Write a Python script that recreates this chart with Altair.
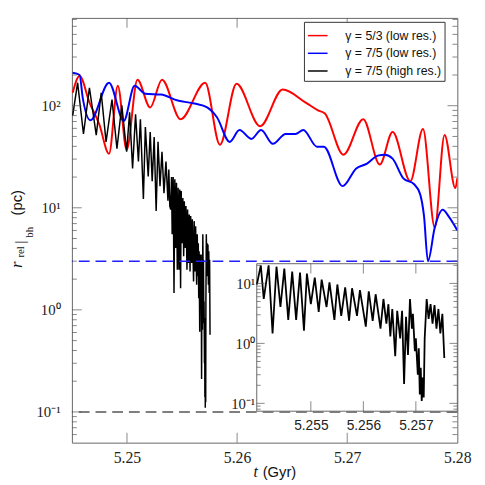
import altair as alt
import pandas as pd

# ---------------- data ----------------
red_t = [5.24507, 5.24570, 5.24659, 5.24748, 5.24837, 5.24917, 5.24997, 5.25095, 5.25211,
         5.25318, 5.25487, 5.25710, 5.25844, 5.25995, 5.26209, 5.26414, 5.26619, 5.26735,
         5.26797, 5.26966, 5.27145, 5.27296, 5.27412, 5.27573, 5.27688, 5.27795, 5.27884,
         5.27982, 5.28]
red_r = [134, 196, 108, 66, 33.9, 157, 37, 180, 96,
         180, 73.8, 168, 41.4, 164, 63, 144, 108, 90,
         84, 33.1, 73.8, 26.5, 55.2, 18.2, 59, 6.4, 51.7,
         15.6, 19.5]

blue_t = [5.24507, 5.24570, 5.24598, 5.24668, 5.24837, 5.24971, 5.25069, 5.25167, 5.25309,
          5.25461, 5.25612, 5.25728, 5.25817, 5.25933, 5.26022, 5.26129, 5.26218, 5.26325,
          5.26441, 5.26530, 5.26601, 5.26726, 5.26788, 5.26958, 5.27082, 5.27180, 5.27278,
          5.27341, 5.27412, 5.27510, 5.27608, 5.27662, 5.27697, 5.27733, 5.27795, 5.27867,
          5.27929, 5.28]
blue_r = [210, 200, 120, 72, 168, 71, 157, 131, 128.5,
          112.5, 105, 96.3, 77, 44.2, 57.8, 47.3, 57.8, 42.3,
          52.8, 52.8, 57.8, 39.6, 39.6, 16.3, 24.3, 27.1, 32.4,
          33.1, 30.3, 19.4, 17.0, 13.6, 8.36, 3.0, 6.4, 9.55,
          8.0, 6.0]

black_t = [5.24507, 5.24552, 5.24605, 5.24659, 5.24721, 5.24766, 5.24810, 5.24864, 5.24909,
           5.24953, 5.24997, 5.25024, 5.25051, 5.25078, 5.25104, 5.25122, 5.25149, 5.25167,
           5.25193, 5.25211, 5.25229, 5.25247, 5.25265, 5.25282, 5.25300, 5.25318, 5.25336,
           5.25354, 5.25372, 5.25380, 5.25389,
           5.253972, 5.254047, 5.254103, 5.254196, 5.254271, 5.254346, 5.254421, 5.254495,
           5.254570, 5.254645, 5.254720, 5.254794, 5.254869, 5.254925, 5.255000, 5.255075,
           5.255150, 5.255206, 5.255299, 5.255355, 5.255449, 5.255505, 5.255579, 5.255654,
           5.255729, 5.255785, 5.255879, 5.255935, 5.256047, 5.256103, 5.256178, 5.256234,
           5.256327, 5.256383, 5.256439, 5.256477, 5.256514, 5.256551, 5.256607, 5.256645,
           5.256701, 5.256738, 5.256776, 5.256813, 5.256850, 5.256888, 5.256925, 5.256944,
           5.256981, 5.257000, 5.257037, 5.257056, 5.257075, 5.257093, 5.257112, 5.257131,
           5.257150, 5.257168, 5.257206, 5.257243, 5.257280, 5.257318, 5.257355, 5.257393,
           5.257430, 5.257467, 5.257505, 5.257542]
black_r = [80, 168, 52.8, 150, 51.5, 134, 44.3, 115, 37.9,
           100.7, 35.4, 86.1, 24.3, 82.4, 28.4, 73.6, 12.2, 61.7,
           20.3, 55.2, 18.2, 49.4, 9.3, 44.3, 16.3, 35.4, 13.9,
           28.4, 11.7, 23.7, 10.4,
           9.6, 20.0, 5.5, 20.0, 1.46, 19.0, 4.04, 17.6,
           2.47, 15.7, 2.47, 15.1, 1.63, 14.6, 4.5, 12.5,
           3.35, 11.6, 4.04, 10.4, 2.47, 9.6, 2.88, 8.6,
           2.38, 8.3, 2.88, 7.7, 1.90, 7.4, 2.38, 6.6,
           1.76, 5.5, 2.13, 4.5, 1.30, 3.75, 0.61, 3.48,
           1.21, 3.48, 0.21, 2.77, 0.64, 5.5, 1.76, 3.1,
           0.74, 1.21, 0.30, 0.83, 0.14, 0.39, 0.11, 0.27,
           0.125, 1.21, 5.5, 2.57, 4.5, 2.13, 4.36, 1.76,
           3.75, 1.46, 3.1, 0.57]

series_names = ["γ = 5/3 (low res.)", "γ = 7/5 (low res.)", "γ = 7/5 (high res.)"]
series_colors = ["#ff0000", "#0000ff", "#000000"]

ref_levels = [3.0, 0.1]
ref_colors = ["#1f1fff", "#555555"]

main_x_domain = [5.245, 5.28]
main_y_domain = [0.05, 725]
inset_x_domain = [5.25397, 5.25779]
inset_y_domain = [0.074, 21.3]

main_xticks = [5.25, 5.26, 5.27, 5.28]
main_xticks_inner = [5.25, 5.26, 5.27]
main_ymajor = [0.1, 1, 10, 100]
main_yminor = [0.06, 0.07, 0.08, 0.09, 0.2, 0.3, 0.4, 0.5, 0.6, 0.7, 0.8, 0.9,
               2, 3, 4, 5, 6, 7, 8, 9, 20, 30, 40, 50, 60, 70, 80, 90,
               200, 300, 400, 500, 600, 700]
inset_xticks = [5.255, 5.256, 5.257]
inset_ymajor = [0.1, 1, 10]
inset_yminor = [0.08, 0.09, 0.2, 0.3, 0.4, 0.5, 0.6, 0.7, 0.8, 0.9,
                2, 3, 4, 5, 6, 7, 8, 9, 20]

# ---------------- layout constants ----------------
W, H = 392, 432
INSET_X_RANGE = [188, 392]
INSET_Y_RANGE = [400, 250]
FRAME = "#666666"
TICKC = "#555555"
SERIF = "Liberation Serif"
SANS = "Liberation Sans"
pow_expr = ("datum.value > 50 ? '10²' : datum.value > 5 ? '10¹' : "
            "datum.value > 0.5 ? '10⁰' : '10⁻¹'")

df_red = pd.DataFrame({"t": red_t, "r": red_r, "series": series_names[0]})
df_blue = pd.DataFrame({"t": blue_t, "r": blue_r, "series": series_names[1]})
df_black = pd.DataFrame({"t": black_t, "r": black_r, "series": series_names[2]})
df_ref = pd.DataFrame({"r": ref_levels, "c": ref_colors})

xs = alt.Scale(domain=main_x_domain, nice=False, zero=False)
ys = alt.Scale(type="log", domain=main_y_domain, nice=False)

x_axis = alt.Axis(values=main_xticks, format=".2f", ticks=False, tickSize=0, domain=False,
                  grid=False, labelPadding=7, labelFont=SERIF, labelFontSize=16,
                  labelColor="#222", labelFlush=False, labelOverlap=False, title=None,
                  orient="bottom")
y_axis = alt.Axis(values=main_ymajor, labelExpr=pow_expr, ticks=False, tickSize=0, domain=False,
                  grid=False, labelPadding=12, labelFont=SERIF, labelFontSize=15,
                  labelColor="#222", labelFlush=False, labelOverlap=False, title=None,
                  orient="left")

color = alt.Color("series:N",
                  scale=alt.Scale(domain=series_names, range=series_colors),
                  legend=alt.Legend(title=None, orient="none", legendX=236, legendY=4,
                                    symbolType="stroke", symbolSize=400, symbolStrokeWidth=1.5,
                                    labelFont=SANS, labelFontSize=12.5, labelColor="#111",
                                    padding=3, rowPadding=0, labelOffset=17,
                                    strokeColor="#333", fillColor="white", cornerRadius=0))

red = alt.Chart(df_red).mark_line(interpolate="monotone", strokeWidth=2, clip=True).encode(
    x=alt.X("t:Q", scale=xs, axis=x_axis, title=None),
    y=alt.Y("r:Q", scale=ys, axis=y_axis, title=None),
    color=color)
blue = alt.Chart(df_blue).mark_line(interpolate="monotone", strokeWidth=2, clip=True).encode(
    x=alt.X("t:Q", title=None), y=alt.Y("r:Q", title=None), color=color)
black = alt.Chart(df_black).mark_line(strokeWidth=1.5, clip=True).encode(
    x=alt.X("t:Q", title=None), y=alt.Y("r:Q", title=None), color=color)

refs = alt.Chart(df_ref).mark_rule(strokeDash=[11, 6], strokeWidth=1.5).encode(
    y=alt.Y("r:Q", title=None),
    stroke=alt.Stroke("c:N", scale=None))

def yticks(values, xval, length, offset):
    return alt.Chart(pd.DataFrame({"v": values})).mark_tick(
        orient="horizontal", size=length, thickness=1, xOffset=offset, color=TICKC).encode(
        x=alt.datum(xval), y=alt.Y("v:Q", title=None))

def xticks(values, yval, length, offset):
    return alt.Chart(pd.DataFrame({"v": values})).mark_tick(
        orient="vertical", size=length, thickness=1, yOffset=offset, color=TICKC).encode(
        y=alt.datum(yval), x=alt.X("v:Q", title=None))

def label(text, x, y, font, size, style="normal"):
    return alt.Chart(pd.DataFrame({"s": [text]})).mark_text(
        angle=270, align="center", baseline="middle", font=font, fontSize=size,
        fontStyle=style, color="#111").encode(
        x=alt.value(x), y=alt.value(y), text="s:N")

def hlabel(text, x, y, font, size, align, style="normal"):
    return alt.Chart(pd.DataFrame({"s": [text]})).mark_text(
        align=align, baseline="middle", font=font, fontSize=size,
        fontStyle=style, color="#111").encode(
        x=alt.value(x), y=alt.value(y), text="s:N")

main = alt.layer(
    red, blue, black, refs,
    yticks(main_ymajor, main_x_domain[0], 10, 5),
    yticks(main_ymajor, main_x_domain[1], 10, -5),
    yticks(main_yminor, main_x_domain[0], 5, 2.5),
    yticks(main_yminor, main_x_domain[1], 5, -2.5),
    xticks(main_xticks_inner, main_y_domain[0], 10, -5),
    xticks(main_xticks_inner, main_y_domain[1], 10, 5),
    label("(pc)", -56, 188, SANS, 15),
    label("bh", -43, 218, SERIF, 11),
    label("|", -53, 228, SERIF, 15),
    label("rel", -52, 238, SERIF, 11),
    label("r", -56, 251, SERIF, 17, "italic"),
    hlabel("t", 187, 462, SERIF, 16, "center", "italic"),
    hlabel("(Gyr)", 194, 462, SANS, 15, "left"),
)

# ---------------- inset ----------------
ixs = alt.Scale(domain=inset_x_domain, range=INSET_X_RANGE, nice=False, zero=False)
iys = alt.Scale(type="log", domain=inset_y_domain, range=INSET_Y_RANGE, nice=False)

ix_axis = alt.Axis(orient="bottom", offset=-32, values=inset_xticks, format=".3f",
                   ticks=False, tickSize=0, domain=False, grid=False, labelPadding=8,
                   labelFont=SANS, labelFontSize=14, labelColor="#222", labelFlush=False,
                   labelOverlap=False, title=None)
iy_axis = alt.Axis(orient="left", offset=-188, values=inset_ymajor, labelExpr=pow_expr,
                   ticks=False, tickSize=0, domain=False, grid=False, labelPadding=2,
                   labelFont=SERIF, labelFontSize=15, labelColor="#222", labelFlush=False,
                   labelOverlap=False, title=None)

df_frame = pd.DataFrame({"x0": [inset_x_domain[0]], "x1": [inset_x_domain[1]],
                         "y0": [inset_y_domain[0]], "y1": [inset_y_domain[1]]})
frame = alt.Chart(df_frame).mark_rect(fill="white", stroke=FRAME, strokeWidth=1).encode(
    x=alt.X("x0:Q", scale=ixs, axis=ix_axis, title=None), x2="x1:Q",
    y=alt.Y("y0:Q", scale=iys, axis=iy_axis, title=None), y2="y1:Q")

inset_line = alt.Chart(df_black).transform_filter(
    f"datum.t >= {inset_x_domain[0]}").mark_line(strokeWidth=1.8, color="black").encode(
    x=alt.X("t:Q", title=None), y=alt.Y("r:Q", title=None))

inset = alt.layer(
    frame, inset_line,
    yticks(inset_ymajor, inset_x_domain[0], 8, 4),
    yticks(inset_ymajor, inset_x_domain[1], 8, -4),
    yticks(inset_yminor, inset_x_domain[0], 4, 2),
    yticks(inset_yminor, inset_x_domain[1], 4, -2),
    xticks(inset_xticks, inset_y_domain[0], 10, -5),
    xticks(inset_xticks, inset_y_domain[1], 10, 5),
)

chart = alt.layer(main, inset).resolve_scale(
    x="independent", y="independent"
).properties(
    width=W, height=H,
    padding={"left": 65, "top": 6, "right": 20, "bottom": 39},
    autosize=alt.AutoSizeParams(type="none"),
).configure_view(stroke=FRAME, strokeWidth=1).configure_axis(grid=False)

chart.save("out.html", embed_options={"renderer": "svg", "actions": False})
